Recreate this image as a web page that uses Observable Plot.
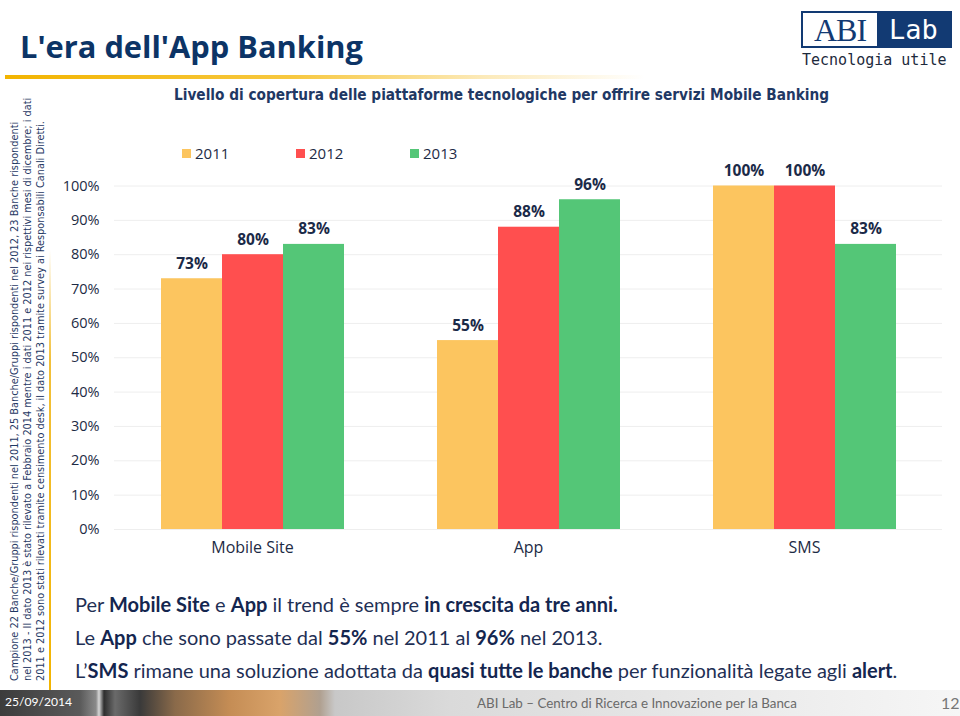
<!DOCTYPE html>
<html>
<head>
<meta charset="utf-8">
<script src="https://cdn.jsdelivr.net/npm/d3@7"></script>
<script src="https://cdn.jsdelivr.net/npm/@observablehq/plot@0.6"></script>
<style>
  html, body { margin: 0; padding: 0; background: #fff; }
  #page { position: relative; width: 960px; height: 716px; overflow: hidden; background: #fff; }
  .abs { position: absolute; white-space: nowrap; }
  #title { left: 20px; top: 31px; font-family: "Open Sans", sans-serif; font-weight: 700; font-size: 30px; color: #0c3466; line-height: 1; }
  #goldline { left: 5px; top: 75px; width: 640px; height: 4px; background: linear-gradient(90deg, #f2b400 0%, #f7c840 45%, rgba(250,220,140,0.6) 75%, rgba(255,255,255,0) 100%); }
  #vgold { left: 49px; top: 250px; width: 2px; height: 440px; background: linear-gradient(180deg, rgba(255,255,255,0) 0%, #f2c03a 25%, #f2b400 100%); }
  #logo { left: 801px; top: 11px; width: 147px; height: 33px; border: 2px solid #123a73; background: #fff; }
  #logo .abi { position: absolute; left: 0; top: 0; width: 74px; height: 33px; text-align: center; font-family: "Liberation Serif", "DejaVu Serif", serif; font-size: 32px; line-height: 35px; color: #123a73; letter-spacing: -1px; }
  #logo .lab { position: absolute; left: 74px; top: 0; width: 73px; height: 33px; background: #123a73; text-align: center; font-family: "DejaVu Sans Mono", monospace; font-size: 27px; line-height: 34px; color: #fff; }
  #tagline { left: 802px; top: 51px; font-family: "DejaVu Sans Mono", monospace; font-size: 15px; color: #1d2a3c; }
  #foot { left: 8px; top: 681px; transform: rotate(-90deg); transform-origin: 0 0; font-family: "Liberation Sans Narrow", "DejaVu Sans Condensed", sans-serif; font-size: 11px; line-height: 13px; color: #1f3864; }
  #foot div { white-space: nowrap; display: block; width: max-content; }
  #subtitle { left: 174px; top: 86px; font-family: "Liberation Sans Narrow", "DejaVu Sans Condensed", sans-serif; font-weight: 700; font-size: 16px; color: #1f3864; }
  #legend { left: 0; top: 143px; height: 20px; font-family: "Open Sans", sans-serif; font-size: 15px; color: #1d2b45; }
  .lg { position: absolute; top: 0; display: flex; align-items: center; white-space: nowrap; }
  .lg .sw { width: 9px; height: 9px; margin-right: 4px; }
  #chart { left: 0; top: 165px; }
  #chart svg [aria-label^="fx-axis"] { font-size: 16px; }
  #chart svg [aria-label^="y-axis"] { font-size: 14.5px; }
  #body { left: 75px; top: 588px; font-family: "Lato", sans-serif; font-size: 19px; line-height: 33px; color: #1f3055; }
  #body div { display: block; width: max-content; white-space: nowrap; }
  #body b { color: #14264f; }
  #bar { left: 0; top: 690px; width: 960px; height: 26px;
    background: linear-gradient(90deg, #3c3c3c 0px, #5a5a5a 80px, #8a8a8a 96px, #d8d8d8 99px, #2e2e2e 104px, #6a6a6a 115px, #3a3a3a 140px, #8a6a4a 175px, #c58d55 230px, #d9a36a 280px, #b0a090 320px, #c8c8c8 335px, #dadada 450px, #e8e8e8 700px, #f6f6f6 960px); }
  #date { left: 5px; top: 694px; font-family: "Lato", sans-serif; font-size: 15px; color: #fff; }
  #footer { left: 477px; top: 695px; font-family: "Lato", sans-serif; font-size: 13px; color: #6a6a6a; }
  #pagenum { left: 941px; top: 693px; font-family: "Lato", sans-serif; font-size: 16px; color: #777; }
</style>
</head>
<body>
<div id="page">
  <div id="title" class="abs">L'era dell'App Banking</div>
  <div id="goldline" class="abs"></div>
  <div id="logo" class="abs"><div class="abi">ABI</div><div class="lab">Lab</div></div>
  <div id="tagline" class="abs">Tecnologia utile</div>
  <div id="vgold" class="abs"></div>
  <div id="foot" class="abs">
    <div id="f1">Campione 22 Banche/Gruppi rispondenti nel 2011, 25 Banche/Gruppi rispondenti nel 2012, 23 Banche rispondenti</div>
    <div id="f2">nel 2013 - Il dato 2013 è stato rilevato a Febbraio 2014 mentre i dati 2011 e 2012 nei rispettivi mesi di dicembre; i dati</div>
    <div id="f3">2011 e 2012 sono stati rilevati tramite censimento desk, il dato 2013 tramite survey ai Responsabili Canali Diretti.</div>
  </div>
  <div id="subtitle" class="abs">Livello di copertura delle piattaforme tecnologiche per offrire servizi Mobile Banking</div>
  <div id="legend" class="abs"></div>
  <div id="chart" class="abs"></div>
  <div id="body" class="abs">
    <div id="b1">Per <b>Mobile Site</b> e <b>App</b> il trend è sempre <b>in crescita da tre anni.</b></div>
    <div id="b2">Le <b>App</b> che sono passate dal <b>55%</b> nel 2011 al <b>96%</b> nel 2013.</div>
    <div id="b3">L’<b>SMS</b> rimane una soluzione adottata da <b>quasi tutte le banche</b> per funzionalità legate agli <b>alert</b>.</div>
  </div>
  <div id="bar" class="abs"></div>
  <div id="date" class="abs">25/09/2014</div>
  <div id="footer" class="abs">ABI Lab – Centro di Ricerca e Innovazione per la Banca</div>
  <div id="pagenum" class="abs">12</div>
</div>
<script>
// ---- data ----
const categories = ["Mobile Site", "App", "SMS"];
const years = ["2011", "2012", "2013"];
const values2011 = [0.73, 0.55, 1.00];
const values2012 = [0.80, 0.88, 1.00];
const values2013 = [0.83, 0.96, 0.83];
const yTicks = [0, 0.1, 0.2, 0.3, 0.4, 0.5, 0.6, 0.7, 0.8, 0.9, 1.0];
const colors = ["#FCC55F", "#FF4F4F", "#54C677"];

const seriesByYear = [values2011, values2012, values2013];
const data = categories.flatMap((c, i) =>
  years.map((yr, j) => ({category: c, year: yr, value: seriesByYear[j][i]}))
);

// ---- fit text widths ----
function fit(el, target) {
  const w = el.offsetWidth;
  const fs = parseFloat(getComputedStyle(el).fontSize);
  const nfs = fs * target / w;
  el.style.fontSize = nfs + "px";
  return nfs;
}
fit(document.getElementById("title"), 343);
fit(document.getElementById("subtitle"), 656);
{
  const fs = fit(document.getElementById("f2"), 584);
  document.getElementById("f1").style.fontSize = fs + "px";
  document.getElementById("f3").style.fontSize = fs + "px";
}
{
  const fs = fit(document.getElementById("b3"), 823);
  document.getElementById("b1").style.fontSize = fs + "px";
  document.getElementById("b2").style.fontSize = fs + "px";
}
fit(document.getElementById("footer"), 320);
fit(document.getElementById("date"), 67);

// ---- legend ----
const legend = document.getElementById("legend");
const legendX = [182, 296, 410];
years.forEach((yr, i) => {
  const item = document.createElement("div");
  item.className = "lg";
  item.style.left = legendX[i] + "px";
  item.innerHTML = `<span class="sw" style="background:${colors[i]}"></span><span>${yr}</span>`;
  legend.appendChild(item);
});

// ---- chart ----
const pct = d3.format(".0%");
const chart = Plot.plot({
  width: 960,
  height: 400,
  marginLeft: 159,
  marginRight: 64,
  marginTop: 20.5,
  marginBottom: 36,
  style: {fontFamily: "Open Sans, sans-serif", fontSize: "14px", color: "#1d2b45", background: "transparent", overflow: "visible"},
  fx: {domain: categories, paddingInner: 1 / 3, paddingOuter: 0, label: null, axis: "bottom", tickSize: 0, tickPadding: 12},
  x: {domain: years, padding: 0, axis: null},
  y: {domain: [0, 1], ticks: yTicks, tickFormat: pct, tickSize: 0, tickPadding: 61, label: null},
  color: {domain: years, range: colors},
  marks: [
    Plot.ruleY(yTicks, {stroke: "#eeeeee", insetLeft: -46, insetRight: -46}),
    Plot.barY(data, {fx: "category", x: "year", y: "value", fill: "year"}),
    Plot.text(data, {fx: "category", x: "year", y: "value", text: d => pct(d.value), dy: -15, fontWeight: "bold", fontSize: 15.5, fill: "#1b2a48"})
  ]
});
document.getElementById("chart").appendChild(chart);
</script>
</body>
</html>
